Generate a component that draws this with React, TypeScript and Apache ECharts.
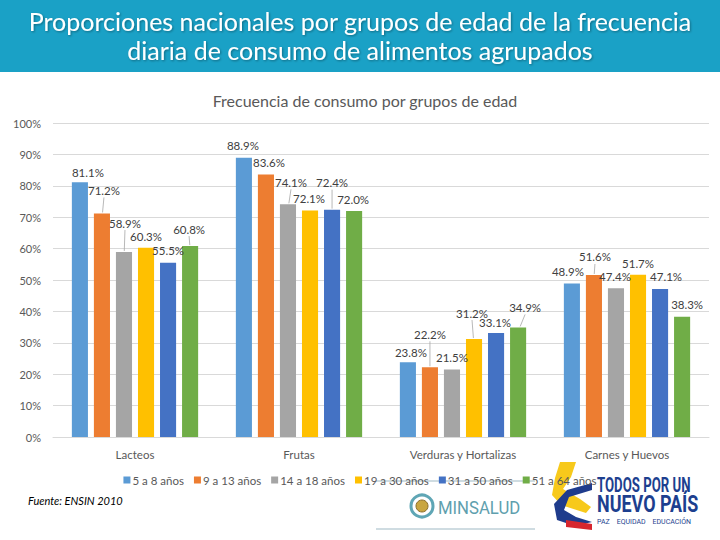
import React, { useEffect, useRef } from "react";
import * as echarts from "echarts";

const categories = ["Lacteos", "Frutas", "Verduras y Hortalizas", "Carnes y Huevos"];
const ageGroups = ["5 a 8 años", "9 a 13 años", "14 a 18 años", "19 a 30 años", "31 a 50 años", "51 a 64 años"];
const s5a8 = [81.1, 88.9, 23.8, 48.9];
const s9a13 = [71.2, 83.6, 22.2, 51.6];
const s14a18 = [58.9, 74.1, 21.5, 47.4];
const s19a30 = [60.3, 72.1, 31.2, 51.7];
const s31a50 = [55.5, 72.4, 33.1, 47.1];
const s51a64 = [60.8, 72.0, 34.9, 38.3];
const yTicks = [0, 10, 20, 30, 40, 50, 60, 70, 80, 90, 100];

const seriesValues = [s5a8, s9a13, s14a18, s19a30, s31a50, s51a64];
const colors = ["#5B9BD5", "#ED7D31", "#A5A5A5", "#FFC000", "#4472C4", "#70AD47"];

// label displacement (layout only)
const labelDx = [
  [8, -1, 3, -4],
  [2, 3, 0, 1],
  [1, 3, 0, -1],
  [0, -1, -2, 0],
  [0, 0, -1, 6],
  [-1, -1, 7, 5],
];
const labelDy = [
  [0, -2, 0, -2],
  [-13, -2, -23, -8],
  [-19, -12, -2, -2],
  [-1, -2, -16, -1],
  [-2, -17, -1, -3],
  [-7, -1, -10, -2],
];

const BAR_GAP = 0.37;
const CAT_GAP = 0.23;
const LABEL_DIST = 4;

const FONT = "Lato, 'Noto Sans', sans-serif";

export default function App() {
  const ref = useRef<HTMLDivElement>(null);
  useEffect(() => {
    if (!ref.current) return;
    const chart = echarts.init(ref.current, null, { renderer: "svg" });
    const nSeries = seriesValues.length;
    const leaderData: any[] = [];
    seriesValues.forEach((vals, si) =>
      vals.forEach((v, ci) => {
        leaderData.push([ci, v, si, labelDx[si][ci], labelDy[si][ci]]);
      })
    );
    const option: any = {
      animation: false,
      backgroundColor: "#ffffff",
      textStyle: { fontFamily: FONT },
      grid: { left: 53, right: 11, top: 123, bottom: 103 },
      legend: {
        data: ageGroups,
        left: "center",
        top: 469,
        itemWidth: 7,
        itemHeight: 7,
        itemGap: 10,
        icon: "rect",
        textStyle: { color: "#595959", fontSize: 11.5, fontFamily: FONT, padding: [0, 0, 0, -3] },
      },
      xAxis: {
        type: "category",
        data: categories,
        axisTick: { show: false },
        axisLine: { lineStyle: { color: "#d9d9d9" } },
        axisLabel: { color: "#595959", fontSize: 11.5, margin: 11, fontFamily: FONT },
      },
      yAxis: {
        type: "value",
        min: yTicks[0],
        max: yTicks[yTicks.length - 1],
        interval: 10,
        axisLine: { show: false },
        axisTick: { show: false },
        splitLine: { lineStyle: { color: "#d9d9d9" } },
        axisLabel: { color: "#595959", fontSize: 11, margin: 12, formatter: "{value}%", fontFamily: FONT },
      },
      series: [
        ...seriesValues.map((vals, si) => ({
          type: "bar",
          name: ageGroups[si],
          data: vals,
          barGap: BAR_GAP * 100 + "%",
          barCategoryGap: CAT_GAP * 100 + "%",
          itemStyle: { color: colors[si] },
          label: {
            show: true,
            position: "top",
            distance: LABEL_DIST,
            color: "#404040",
            fontSize: 11.5,
            fontFamily: FONT,
            formatter: (p: any) => p.value.toFixed(1) + "%",
          },
          labelLayout: (p: any) => ({ dx: labelDx[p.seriesIndex][p.dataIndex], dy: labelDy[p.seriesIndex][p.dataIndex] }),
        })),
        {
          type: "custom",
          silent: true,
          z: 5,
          data: leaderData,
          renderItem: (params: any, api: any) => {
            const ci = api.value(0);
            const v = api.value(1);
            const si = api.value(2);
            const dx = api.value(3);
            const dy = api.value(4);
            if (dy > -6) return null;
            const pt = api.coord([ci, v]);
            const band = api.size([1, 0])[0];
            const usable = band * (1 - CAT_GAP);
            const bw = usable / (nSeries + (nSeries - 1) * BAR_GAP);
            const bx = pt[0] - usable / 2 + si * bw * (1 + BAR_GAP) + bw / 2;
            const topY = pt[1];
            return {
              type: "line",
              shape: { x1: bx + dx * 0.3, y1: topY - 1, x2: bx + dx, y2: topY - LABEL_DIST + dy + 1 },
              style: { stroke: "#a6a6a6", lineWidth: 0.8 },
            };
          },
        },
      ],
      graphic: [
        { type: "rect", left: 0, top: 0, shape: { width: 720, height: 72 }, style: { fill: "#1AA1C6" } },
        {
          type: "text",
          x: 360,
          y: 21,
          style: {
            text: "Proporciones nacionales por grupos de edad de la frecuencia",
            fill: "#ffffff",
            font: "25px " + FONT,
            align: "center",
            verticalAlign: "middle",
            textShadowColor: "rgba(0,0,0,0.35)",
            textShadowBlur: 2,
            textShadowOffsetX: 1,
            textShadowOffsetY: 1,
          },
        },
        {
          type: "text",
          x: 360,
          y: 50,
          style: {
            text: "diaria de consumo de alimentos agrupados",
            fill: "#ffffff",
            font: "25px " + FONT,
            align: "center",
            verticalAlign: "middle",
            textShadowColor: "rgba(0,0,0,0.35)",
            textShadowBlur: 2,
            textShadowOffsetX: 1,
            textShadowOffsetY: 1,
          },
        },
        {
          type: "text",
          x: 365,
          y: 100,
          style: {
            text: "Frecuencia de consumo por grupos de edad",
            fill: "#595959",
            font: "16px " + FONT,
            align: "center",
            verticalAlign: "middle",
          },
        },
        {
          type: "text",
          x: 28,
          y: 500,
          style: {
            text: "Fuente: ENSIN 2010",
            fill: "#000000",
            font: "italic 11px " + FONT,
            align: "left",
            verticalAlign: "middle",
          },
        },
        // MINSALUD logo
        { type: "line", shape: { x1: 376, y1: 481, x2: 535, y2: 481 }, style: { stroke: "#9fb9c4", lineWidth: 1 } },
        { type: "line", shape: { x1: 376, y1: 529, x2: 535, y2: 529 }, style: { stroke: "#9fb9c4", lineWidth: 1 } },
        { type: "circle", shape: { cx: 422, cy: 506, r: 11 }, style: { fill: "#ffffff", stroke: "#5fa6b5", lineWidth: 3 } },
        { type: "circle", shape: { cx: 422, cy: 506, r: 6 }, style: { fill: "#c9a640", stroke: "#8a6d2a", lineWidth: 1 } },
        {
          type: "text",
          x: 438,
          y: 507,
          scaleX: 0.88,
          style: { text: "MINSALUD", fill: "#5f9fae", font: "19px Roboto, sans-serif", align: "left", verticalAlign: "middle" },
        },
        // Todos por un nuevo país logo
        {
          type: "polygon",
          shape: { points: [[560, 462], [576, 462], [571, 477], [563, 489], [580, 499], [591, 507], [586, 513], [561, 505], [552, 495], [555, 478]] },
          style: { fill: "#F7C91B" },
        },
        {
          type: "polygon",
          shape: { points: [[592, 483], [567, 490], [554, 504], [557, 520], [575, 526], [592, 522], [576, 517], [564, 510], [569, 497], [592, 490]] },
          style: { fill: "#1F3C8C" },
        },
        {
          type: "polygon",
          shape: { points: [[566, 520], [592, 524], [592, 530], [566, 527]] },
          style: { fill: "#D7262E" },
        },
        {
          type: "text",
          x: 597,
          y: 485,
          scaleX: 0.66,
          style: { text: "TODOS POR UN", fill: "#1D3F8F", font: "bold 20px Roboto, sans-serif", align: "left", verticalAlign: "middle" },
        },
        {
          type: "text",
          x: 597,
          y: 504,
          scaleX: 0.78,
          style: { text: "NUEVO PAÍS", fill: "#1D3F8F", font: "bold 23px Roboto, sans-serif", align: "left", verticalAlign: "middle" },
        },
        {
          type: "text",
          x: 597,
          y: 522,
          style: { text: "PAZ    EQUIDAD    EDUCACIÓN", fill: "#1D3F8F", font: "7px Roboto, sans-serif", align: "left", verticalAlign: "middle" },
        },
      ],
    };
    chart.setOption(option);
    return () => chart.dispose();
  }, []);
  return <div ref={ref} style={{ position: "fixed", left: 0, top: 0, width: 720, height: 540 }} />;
}
